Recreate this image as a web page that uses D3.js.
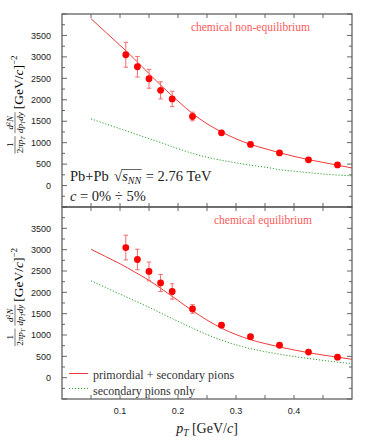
<!DOCTYPE html>
<html>
<head>
  <meta charset="utf-8">
  <title>pion spectra</title>
  <script src="https://d3js.org/d3.v7.min.js"></script>
  <style>
    body { margin: 0; background: #fff; }
  </style>
</head>
<body>
  <div id="chart"></div>

  <script>
    // measured ALICE points (same in both panels)
    const ptData = [0.11, 0.13, 0.15, 0.17, 0.19, 0.225, 0.275, 0.325, 0.375, 0.425, 0.475];
    const yieldData = [3050, 2770, 2490, 2220, 2020, 1610, 1230, 960, 760, 600, 480];
    const yieldErr = [290, 240, 220, 200, 180, 100, 50, 35, 30, 25, 20];

    // model curves
    const ptCurve = [0.05, 0.075, 0.1, 0.125, 0.15, 0.175, 0.2, 0.225, 0.25, 0.275,
                     0.3, 0.325, 0.35, 0.375, 0.4, 0.425, 0.45, 0.475, 0.5];
    const nonEqTotal = [3890, 3580, 3270, 2950, 2610, 2280, 1970, 1680, 1440, 1250,
                        1090, 960, 860, 765, 680, 605, 540, 475, 410];
    const nonEqSecondary = [1555, 1440, 1325, 1210, 1095, 980, 860, 750, 660, 590,
                            530, 475, 430, 370, 335, 300, 270, 245, 227];
    const eqTotal = [3010, 2840, 2670, 2480, 2280, 2050, 1810, 1570, 1350, 1160,
                     1010, 890, 800, 720, 650, 585, 530, 480, 430];
    const eqSecondary = [2270, 2115, 1960, 1805, 1650, 1485, 1320, 1160, 1010, 880,
                         770, 680, 610, 550, 495, 450, 405, 365, 330];

    const xTickLabels = [0.1, 0.2, 0.3, 0.4];
    const yTickLabels = [0, 500, 1000, 1500, 2000, 2500, 3000, 3500];

    const W = 374, H = 442;
    const left = 62, right = 352;
    const panels = [
      { top: 14, bottom: 207, total: nonEqTotal, secondary: nonEqSecondary, title: "chemical non-equilibrium", titleX: 310 },
      { top: 207, bottom: 399, total: eqTotal, secondary: eqSecondary, title: "chemical equilibrium", titleX: 312 }
    ];

    const serif = '"Liberation Serif", "DejaVu Serif", serif';
    const sans = '"Liberation Sans", Arial, sans-serif';
    const frameColor = "#555";
    const lineRed = "#f03c3c";
    const dotGreen = "#2ca02c";
    const nb = "\u00a0";

    const svg = d3.select("#chart").append("svg")
      .attr("width", W)
      .attr("height", H)
      .attr("font-family", serif);

    const x = d3.scaleLinear().domain([0, 0.5]).range([left, right]);
    const xTicks = d3.range(0.05, 0.5, 0.05);

    // y label made of small fractions, rotated
    function yLabel(cy) {
      const g = svg.append("g").attr("transform", `translate(15,${cy}) rotate(-90)`);
      // fraction 1/(2 pi pT)
      const fa = g.append("g");
      fa.append("text").attr("font-size", 9).attr("y", -2.5).text("1");
      const da = fa.append("text").attr("font-size", 9).attr("y", 8);
      da.append("tspan").text("2");
      da.append("tspan").attr("font-style", "italic").text("πp");
      da.append("tspan").attr("font-size", 6).attr("dy", 1.5).attr("font-style", "italic").text("T");
      // fraction d2N/(dpT dy)
      const fb = g.append("g");
      const nu = fb.append("text").attr("font-size", 9).attr("y", -2.5);
      nu.append("tspan").attr("font-style", "italic").text("d");
      nu.append("tspan").attr("font-size", 6).attr("dy", -3).text("2");
      nu.append("tspan").attr("font-style", "italic").attr("dy", 3).text("N");
      const de = fb.append("text").attr("font-size", 9).attr("y", 8);
      de.append("tspan").attr("font-style", "italic").text("dp");
      de.append("tspan").attr("font-size", 6).attr("dy", 1.5).attr("font-style", "italic").text("T");
      de.append("tspan").attr("font-style", "italic").attr("dy", -1.5).text("dy");
      // unit
      const fu = g.append("g");
      const u = fu.append("text").attr("font-size", 13.5).attr("y", 8);
      u.append("tspan").text("[GeV/");
      u.append("tspan").attr("font-style", "italic").text("c");
      u.append("tspan").text("]");
      u.append("tspan").attr("font-size", 9).attr("dy", -6.5).text("−2");

      // place the pieces one after the other, centred on cy
      const parts = [fa, fb, fu];
      const widths = parts.map(p => p.node().getBBox().width);
      const gap = 3;
      const total = d3.sum(widths) + gap * (parts.length - 1);
      let pos = -total / 2;
      parts.forEach((p, i) => {
        const w = widths[i];
        p.selectAll("text").each(function() {
          const tw = this.getComputedTextLength();
          d3.select(this).attr("x", pos + (w - tw) / 2);
        });
        if (i < 2) {
          g.append("line")
            .attr("x1", pos).attr("x2", pos + w)
            .attr("y1", 0).attr("y2", 0)
            .attr("stroke", "#222").attr("stroke-width", 0.6);
        }
        pos += w + gap;
      });
    }

    panels.forEach((p, pi) => {
      const y = d3.scaleLinear().domain([-500, 4000]).range([p.bottom, p.top]);
      const g = svg.append("g");

      const majorY = d3.range(-500, 4001, 500);
      const minorY = d3.range(-250, 4000, 500);

      // ticks on all four sides, pointing inwards
      const tk = g.append("g").attr("stroke", frameColor).attr("stroke-width", 0.9);
      majorY.forEach(v => {
        tk.append("line").attr("x1", left).attr("x2", left + 5).attr("y1", y(v)).attr("y2", y(v));
        tk.append("line").attr("x1", right).attr("x2", right - 5).attr("y1", y(v)).attr("y2", y(v));
      });
      minorY.forEach(v => {
        tk.append("line").attr("x1", left).attr("x2", left + 3).attr("y1", y(v)).attr("y2", y(v));
        tk.append("line").attr("x1", right).attr("x2", right - 3).attr("y1", y(v)).attr("y2", y(v));
      });
      xTicks.forEach(v => {
        tk.append("line").attr("x1", x(v)).attr("x2", x(v)).attr("y1", p.top).attr("y2", p.top + 4);
        tk.append("line").attr("x1", x(v)).attr("x2", x(v)).attr("y1", p.bottom).attr("y2", p.bottom - 4);
      });

      // y tick labels
      g.append("g").selectAll("text")
        .data(yTickLabels)
        .join("text")
        .attr("x", left - 11)
        .attr("y", d => y(d) + 3.2)
        .attr("text-anchor", "end")
        .attr("font-family", sans)
        .attr("font-size", 9)
        .attr("fill", "#222")
        .text(d => d);

      // curves
      const line = vals => d3.line()
        .x((d, i) => x(ptCurve[i]))
        .y(d => y(d))
        .curve(d3.curveMonotoneX)(vals);

      g.append("path")
        .attr("d", line(p.secondary))
        .attr("fill", "none")
        .attr("stroke", dotGreen)
        .attr("stroke-width", 1)
        .attr("stroke-dasharray", "1.2,1.8");

      g.append("path")
        .attr("d", line(p.total))
        .attr("fill", "none")
        .attr("stroke", lineRed)
        .attr("stroke-width", 1);

      // data points with error bars
      const pts = g.append("g");
      ptData.forEach((pt, i) => {
        const cx = x(pt);
        const y1 = y(yieldData[i] + yieldErr[i]);
        const y2 = y(yieldData[i] - yieldErr[i]);
        pts.append("line").attr("x1", cx).attr("x2", cx).attr("y1", y1).attr("y2", y2)
          .attr("stroke", "#f56b6b").attr("stroke-width", 1);
        [y1, y2].forEach(yy => {
          pts.append("line").attr("x1", cx - 2.2).attr("x2", cx + 2.2).attr("y1", yy).attr("y2", yy)
            .attr("stroke", "#f56b6b").attr("stroke-width", 1);
        });
        pts.append("circle").attr("cx", cx).attr("cy", y(yieldData[i])).attr("r", 3.4)
          .attr("fill", "#f00");
      });

      // panel title
      g.append("text")
        .attr("x", p.titleX)
        .attr("y", p.top + 17)
        .attr("text-anchor", "end")
        .attr("font-size", 11.5)
        .attr("fill", "#ff5a5a")
        .text(p.title);

      // frame
      g.append("rect")
        .attr("x", left).attr("y", p.top)
        .attr("width", right - left).attr("height", p.bottom - p.top)
        .attr("fill", "none")
        .attr("stroke", frameColor)
        .attr("stroke-width", 1.2);

      yLabel((p.top + p.bottom) / 2 - 6);
    });

    // collision system text in the top panel, pieces placed one after another
    const info = svg.append("g").attr("fill", "#222");
    let cur = 70;
    function piece(txt, size, yy, italic) {
      const t = info.append("text").attr("x", cur).attr("y", yy)
        .attr("font-size", size)
        .attr("font-style", italic ? "italic" : null)
        .text(txt);
      const w = t.node().getComputedTextLength();
      cur += w;
      return w;
    }
    piece("Pb+Pb" + nb, 14.5, 181, false);
    cur += 1.5;
    piece("√", 15, 181, false);
    const rootStart = cur;
    piece("s", 14.5, 181, true);
    piece("NN", 10, 183.5, true);
    info.append("line")
      .attr("x1", rootStart - 0.5).attr("x2", cur + 0.5)
      .attr("y1", 169.5).attr("y2", 169.5)
      .attr("stroke", "#222").attr("stroke-width", 0.7);
    cur += 1;
    piece(nb + "=" + nb + "2.76" + nb + "TeV", 14.5, 181, false);
    cur = 70;
    piece("c", 14.5, 201, true);
    piece(nb + "=" + nb + "0%" + nb + "÷" + nb + "5%", 14.5, 201, false);

    // legend in the bottom panel
    const leg = svg.append("g");
    leg.append("line").attr("x1", 69).attr("x2", 88).attr("y1", 373.5).attr("y2", 373.5)
      .attr("stroke", lineRed).attr("stroke-width", 1);
    leg.append("line").attr("x1", 69).attr("x2", 88).attr("y1", 388.5).attr("y2", 388.5)
      .attr("stroke", dotGreen).attr("stroke-width", 1).attr("stroke-dasharray", "1.2,1.8");
    leg.append("text").attr("x", 93).attr("y", 379).attr("font-size", 12).attr("fill", "#333")
      .text("primordial + secondary pions");
    leg.append("text").attr("x", 93).attr("y", 395).attr("font-size", 12).attr("fill", "#333")
      .text("secondary pions only");

    // x tick labels under the bottom panel
    svg.append("g").selectAll("text")
      .data(xTickLabels)
      .join("text")
      .attr("x", d => x(d))
      .attr("y", 414)
      .attr("text-anchor", "middle")
      .attr("font-family", sans)
      .attr("font-size", 9)
      .attr("fill", "#222")
      .text(d => d);

    // x axis title
    const xl = svg.append("text")
      .attr("x", (left + right) / 2)
      .attr("y", 433)
      .attr("text-anchor", "middle")
      .attr("font-size", 14)
      .attr("fill", "#222");
    xl.append("tspan").attr("font-style", "italic").text("p");
    xl.append("tspan").attr("font-style", "italic").attr("font-size", 9.5).attr("dy", 3).text("T");
    xl.append("tspan").attr("dy", -3).text(" [GeV/");
    xl.append("tspan").attr("font-style", "italic").text("c");
    xl.append("tspan").text("]");
  </script>
</body>
</html>
